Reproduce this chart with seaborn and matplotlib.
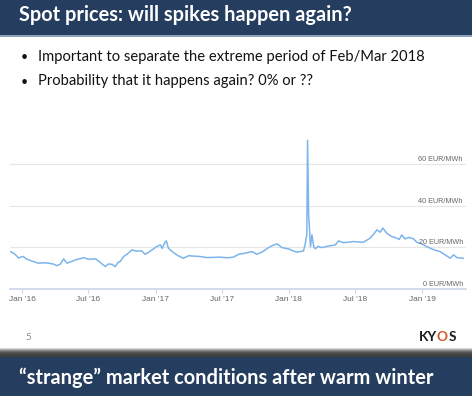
import pandas as pd
import matplotlib
matplotlib.use('Agg')
import matplotlib.pyplot as plt
import matplotlib.dates as mdates
from matplotlib.patches import Rectangle
import seaborn as sns

# spot price readings (EUR/MWh)
dates = [
    '2015-11-30', '2015-12-11', '2015-12-23', '2015-12-30', '2016-01-05', '2016-01-11',
    '2016-01-19', '2016-02-01', '2016-02-15', '2016-02-28', '2016-03-14', '2016-03-27',
    '2016-04-06', '2016-04-15', '2016-04-24', '2016-05-03', '2016-05-15', '2016-05-31',
    '2016-06-09', '2016-06-18', '2016-06-30', '2016-07-20', '2016-08-02', '2016-08-16',
    '2016-08-24', '2016-09-03', '2016-09-12', '2016-09-21', '2016-09-26', '2016-10-05',
    '2016-10-15', '2016-10-28', '2016-11-09', '2016-11-24', '2016-12-03', '2016-12-14',
    '2016-12-26', '2017-01-05', '2017-01-14', '2017-01-19', '2017-01-25', '2017-01-30',
    '2017-02-05', '2017-02-15', '2017-02-28', '2017-03-09', '2017-03-18', '2017-04-01',
    '2017-04-17', '2017-05-03', '2017-05-21', '2017-06-08', '2017-06-27', '2017-07-16',
    '2017-08-02', '2017-08-16', '2017-09-03', '2017-09-22', '2017-10-05', '2017-10-19',
    '2017-10-28', '2017-11-06', '2017-11-16', '2017-11-29', '2017-12-05', '2017-12-13',
    '2017-12-22', '2017-12-31', '2018-01-10', '2018-01-23', '2018-02-01', '2018-02-10',
    '2018-02-15', '2018-02-17', '2018-02-19', '2018-02-21', '2018-02-24', '2018-02-26',
    '2018-03-01', '2018-03-05', '2018-03-10', '2018-03-14', '2018-03-22', '2018-04-01',
    '2018-04-18', '2018-05-08', '2018-05-17', '2018-05-30', '2018-06-13', '2018-06-27',
    '2018-07-10', '2018-07-24', '2018-08-11', '2018-08-20', '2018-08-30', '2018-09-08',
    '2018-09-15', '2018-09-26', '2018-10-10', '2018-10-24', '2018-10-30', '2018-11-06',
    '2018-11-15', '2018-11-26', '2018-12-08', '2018-12-18', '2018-12-27', '2019-01-09',
    '2019-01-23', '2019-02-06', '2019-02-19', '2019-03-05', '2019-03-19', '2019-03-28',
    '2019-04-06', '2019-04-15', '2019-04-24',
]
prices = [
    18.0, 17.0, 14.8, 15.5, 15.6, 14.6,
    14.0, 13.2, 12.4, 12.6, 12.4, 12.0,
    11.2, 12.0, 14.5, 12.4, 13.2, 14.3,
    14.6, 15.1, 14.3, 14.5, 12.8, 10.8,
    12.0, 11.9, 10.8, 13.0, 13.2, 15.6,
    16.8, 18.8, 18.2, 18.3, 16.7, 17.8,
    19.3, 20.5, 21.2, 19.5, 22.0, 23.1,
    19.6, 18.0, 16.4, 15.5, 14.8, 16.0,
    15.8, 15.6, 15.1, 15.2, 15.3, 15.0,
    15.3, 16.7, 17.2, 18.0, 16.7, 17.7,
    18.8, 19.9, 20.8, 21.7, 21.0, 19.9,
    19.6, 19.3, 18.5, 17.7, 18.0, 18.3,
    22.0, 24.4, 26.0, 71.5, 35.7, 30.0,
    20.4, 26.0, 20.4, 19.3, 20.5, 19.9,
    20.6, 21.2, 23.1, 22.3, 22.5, 22.8,
    22.6, 22.5, 24.4, 26.2, 28.4, 27.3,
    29.3, 26.8, 25.2, 24.4, 23.8, 26.0,
    24.1, 24.8, 24.1, 22.4, 22.0, 20.8,
    19.6, 18.6, 18.0, 16.4, 14.8, 16.4,
    15.1, 14.9, 14.8,
]
y_ticks = [0, 20, 40, 60]

title_text = 'Spot prices: will spikes happen again?'
bullets = ['Important to separate the extreme period of Feb/Mar 2018',
           'Probability that it happens again? 0% or ??']
footer_text = '\u201cstrange\u201d market conditions after warm winter'
page_no = '5'

sns.set_theme(style='white')
plt.rcParams['font.family'] = ['Lato', 'DejaVu Sans']

W, H = 472, 396
NAVY = '#253d5e'
fig = plt.figure(figsize=(W / 100, H / 100), dpi=100)
fig.patch.set_facecolor('white')


# rectangle in pixel coords (top-left origin)
def box(x0, y0, x1, y1, color):
    fig.add_artist(Rectangle((x0 / W, 1 - y1 / H), (x1 - x0) / W, (y1 - y0) / H,
                             transform=fig.transFigure, color=color, lw=0, zorder=0))


def txt(x, y, s, **kw):
    fig.text(x / W, 1 - y / H, s, **kw)


# header bar
box(0, 0, W, 35, NAVY)
box(0, 35, W, 37, '#8ea2bd')
txt(19, 15, title_text, color='white', fontsize=14.4, fontweight='bold', va='center')

# bullets
for i, b in enumerate(bullets):
    y = 57 + i * 24.5
    txt(21, y, '\u2022', fontsize=9, va='center', color='#111111')
    txt(38, y, b, fontsize=10.6, va='center', color='#111111')

# chart
ax = fig.add_axes([10 / W, 1 - 289 / H, 456 / W, 156 / H])
df = pd.DataFrame({'date': pd.to_datetime(dates), 'price': prices})
sns.lineplot(data=df, x='date', y='price', ax=ax, color='#7cb5ec', linewidth=1.1)
ax.set_xlim(pd.Timestamp('2015-11-29'), pd.Timestamp('2019-05-01'))
ax.set_ylim(0, 75)
ax.set_yticks(y_ticks)
ax.yaxis.grid(True, color='#e6e6e6', linewidth=0.8)
ax.set_axisbelow(True)
ax.tick_params(axis='y', left=False, labelleft=False)
ax.xaxis.set_major_locator(mdates.MonthLocator(bymonth=[1, 7]))
ax.xaxis.set_major_formatter(mdates.DateFormatter("%b '%y"))
ax.tick_params(axis='x', bottom=True, colors='#ccd6eb', labelcolor='#666666',
               labelsize=6, length=3, width=0.8, pad=2)
for lab in ax.get_xticklabels():
    lab.set_family(['Liberation Sans', 'DejaVu Sans'])
for s in ['top', 'right', 'left']:
    ax.spines[s].set_visible(False)
ax.spines['bottom'].set_color('#ccd6eb')
ax.set_xlabel('')
ax.set_ylabel('')
for v in y_ticks:
    ax.text(0.993, v + 0.6, f'{v} EUR/MWh', transform=ax.get_yaxis_transform(),
            ha='right', va='bottom', fontsize=5.2, color='#666666',
            family=['Liberation Sans', 'DejaVu Sans'])

# slide footer
txt(25, 337, page_no, fontsize=7, color='#8c8c8c', va='center')
txt(419, 337, 'KY', fontsize=9.8, fontweight='bold', color='#1a1a1a', va='center')
txt(436.5, 337, 'O', fontsize=9.8, fontweight='bold', color='#d4552a', va='center')
txt(448.5, 337, 'S', fontsize=9.8, fontweight='bold', color='#1a1a1a', va='center')

# shadow and bottom bar
for i, g in enumerate(['#d8d8d8', '#b0b0b0', '#8a8a8a', '#6a6a6a', '#555555',
                       '#4a4a4a', '#444444', '#404040', '#3c3c3c']):
    box(0, 348 + i, W, 349 + i, g)
box(0, 357, W, H, NAVY)
txt(19, 378, footer_text, color='white', fontsize=14.4, fontweight='bold', va='center')

fig.savefig('out.png', dpi=100)
